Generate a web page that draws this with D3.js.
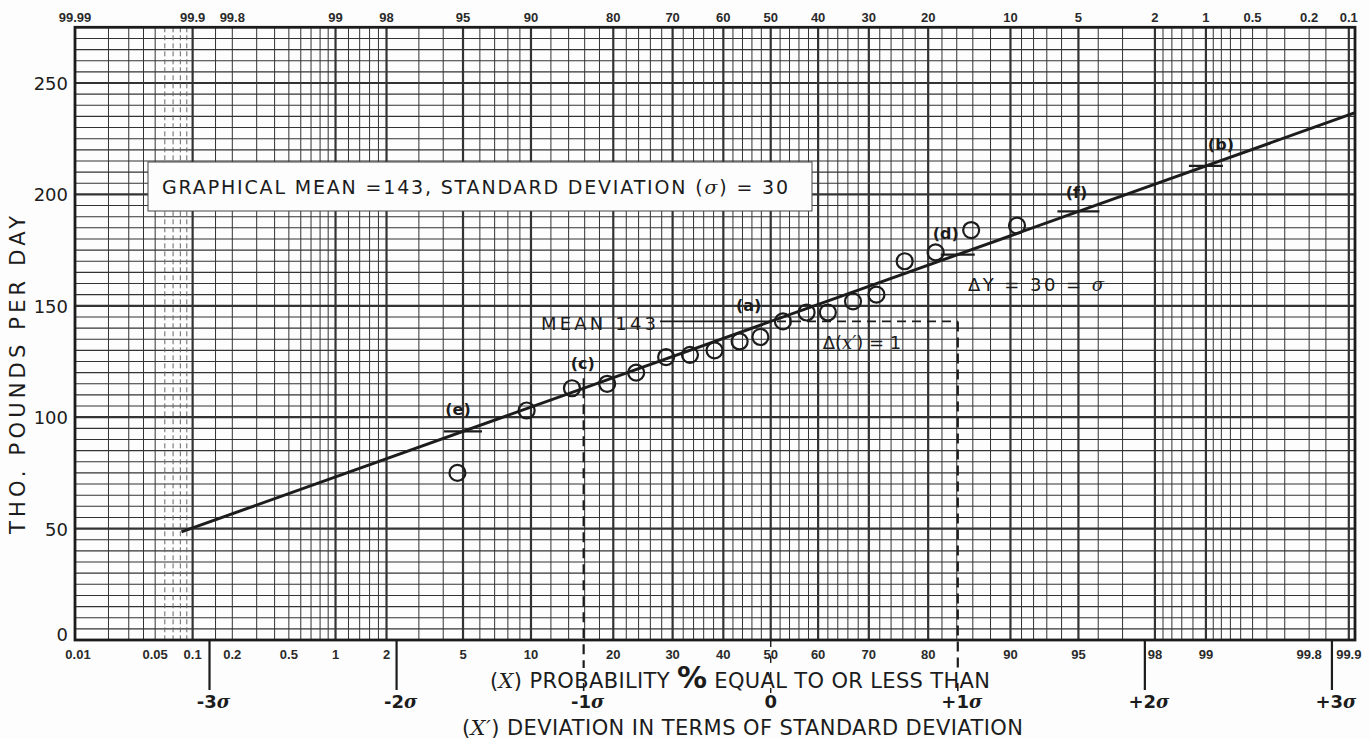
<!DOCTYPE html>
<html>
<head>
<meta charset="utf-8">
<script src="https://cdn.jsdelivr.net/npm/d3@7"></script>
<style>
  body { margin: 0; background: #fdfdfd; }
  svg { display: block; }
</style>
</head>
<body>
<svg id="chart" width="1370" height="739"></svg>
<script>
// Observed daily loads, plotted at their cumulative probability (%)
const observedPct  = [4.7, 9.6, 14.4, 19.1, 23.6, 28.8, 33.3, 38.2, 43.4, 47.8, 52.6, 57.6, 62.0, 67.0, 71.4, 76.3, 81.1, 85.8, 90.6];
const observedLoad = [75, 103, 113, 115, 120, 127, 128, 130, 134, 136, 143, 147, 147, 152, 155, 170, 174, 184, 186];

// Fitted straight line from the graphical estimates
const graphicalMean = 143;
const graphicalSigma = 30;
const fitZStart = -3.15;
const fitZEnd = 3.12;

// Tick labels
const bottomTickLabels = ["0.01", "0.05", "0.1", "0.2", "0.5", "1", "2", "5", "10", "20", "30", "40", "50", "60", "70", "80", "90", "95", "98", "99", "99.8", "99.9"];
const topTickLabels = ["99.99", "99.9", "99.8", "99", "98", "95", "90", "80", "70", "60", "50", "40", "30", "20", "10", "5", "2", "1", "0.5", "0.2", "0.1"];
const yTickValues = [0, 50, 100, 150, 200, 250];
const sigmaSteps = [-3, -2, -1, 0, 1, 2, 3];
const sigmaLabels = ["-3", "-2", "-1", "0", "+1", "+2", "+3"];

// Lettered reference points on the fitted line (probability %)
const markTags = ["(e)", "(c)", "(a)", "(d)", "(f)", "(b)"];
const markPct  = [5, 15.87, 50, 84.13, 95, 99];

// Probability-paper rulings
const heavyPct = [0.1, 1, 2, 5, 10, 20, 30, 40, 50, 60, 70, 80, 90, 95, 98, 99, 99.9];
const faintPct = [0.06, 0.07, 0.08, 0.09];
const rulingPct = [].concat(
  d3.range(0.02, 0.095, 0.01),
  [0.1, 0.15],
  d3.range(0.2, 0.95, 0.1),
  [1, 1.2, 1.4, 1.6, 1.8, 2, 3, 4],
  d3.range(5, 10, 1),
  d3.range(10, 90, 2),
  d3.range(90, 98, 1),
  [98, 98.2, 98.4, 98.6, 98.8],
  d3.range(99, 99.85, 0.1),
  [99.85, 99.9]
).map(v => +v.toFixed(2));

// Inverse standard normal CDF (Acklam's rational approximation)
function probit(p) {
  const a = [-3.969683028665376e+01, 2.209460984245205e+02, -2.759285104469687e+02, 1.383577518672690e+02, -3.066479806614716e+01, 2.506628277459239e+00];
  const b = [-5.447609879822406e+01, 1.615858368580409e+02, -1.556989798598866e+02, 6.680131188771972e+01, -1.328068155288572e+01];
  const c = [-7.784894002430293e-03, -3.223964580411365e-01, -2.400758277161838e+00, -2.549732539343734e+00, 4.374664141464968e+00, 2.938163982698783e+00];
  const d = [7.784695709041462e-03, 3.224671290700398e-01, 2.445134137142996e+00, 3.754408661907416e+00];
  const pl = 0.02425, ph = 1 - pl;
  let q, r;
  if (p < pl) {
    q = Math.sqrt(-2 * Math.log(p));
    return (((((c[0]*q + c[1])*q + c[2])*q + c[3])*q + c[4])*q + c[5]) / ((((d[0]*q + d[1])*q + d[2])*q + d[3])*q + 1);
  }
  if (p <= ph) {
    q = p - 0.5; r = q * q;
    return (((((a[0]*r + a[1])*r + a[2])*r + a[3])*r + a[4])*r + a[5])*q / (((((b[0]*r + b[1])*r + b[2])*r + b[3])*r + b[4])*r + 1);
  }
  q = Math.sqrt(-2 * Math.log(1 - p));
  return -(((((c[0]*q + c[1])*q + c[2])*q + c[3])*q + c[4])*q + c[5]) / ((((d[0]*q + d[1])*q + d[2])*q + d[3])*q + 1);
}

const plotLeft = 75, plotRight = 1355, plotTop = 27.3, plotBottom = 640;
const zScale = d3.scaleLinear().domain([probit(0.0001), 3.1233]).range([plotLeft, plotRight]);
const xPct = p => zScale(probit(p / 100));
const y = d3.scaleLinear().domain([0, 275]).range([plotBottom, plotTop]);
const fitValue = z => graphicalMean + graphicalSigma * z;

const INK = "#1c1c1c";
const GRID = "#333";
const FONT = "'DejaVu Sans', 'Liberation Sans', sans-serif";
const TICKFONT = "'Liberation Sans', 'DejaVu Sans', sans-serif";
const SERIF = "'DejaVu Serif', serif";

const svg = d3.select("#chart");
svg.append("rect").attr("width", 1370).attr("height", 739).attr("fill", "#fdfdfd");

// ---- grid ----
const grid = svg.append("g");
grid.selectAll("line.h")
  .data(d3.range(5, 275, 5))
  .join("line")
  .attr("x1", plotLeft).attr("x2", plotRight)
  .attr("y1", d => y(d)).attr("y2", d => y(d))
  .attr("stroke", GRID)
  .attr("stroke-width", d => d % 50 === 0 ? 2.2 : 1.1);

grid.selectAll("line.v")
  .data(rulingPct)
  .join("line")
  .attr("x1", d => xPct(d)).attr("x2", d => xPct(d))
  .attr("y1", plotTop).attr("y2", plotBottom)
  .attr("stroke", d => faintPct.includes(d) ? "#666" : GRID)
  .attr("stroke-dasharray", d => faintPct.includes(d) ? "5,3" : null)
  .attr("stroke-width", d => heavyPct.includes(d) ? 2.2 : 1.0);

// ---- annotation box ----
svg.append("rect")
  .attr("x", 148).attr("y", 162).attr("width", 664).attr("height", 49)
  .attr("fill", "#fdfdfd").attr("stroke", "#444").attr("stroke-width", 1);
const boxText = svg.append("text")
  .attr("x", 162).attr("y", 194)
  .attr("font-family", FONT).attr("font-size", 19).attr("fill", INK)
  .attr("textLength", 626).attr("lengthAdjust", "spacing");
boxText.append("tspan").text("GRAPHICAL MEAN =" + graphicalMean + ",  STANDARD DEVIATION (");
boxText.append("tspan").attr("font-style", "italic").attr("font-family", SERIF).text("σ");
boxText.append("tspan").text(") = " + graphicalSigma);

// ---- plot frame ----
svg.append("rect")
  .attr("x", plotLeft).attr("y", plotTop).attr("width", plotRight - plotLeft).attr("height", plotBottom - plotTop)
  .attr("fill", "none").attr("stroke", INK).attr("stroke-width", 2.8);

// ---- mean guide and sigma guides ----
const yMean = y(graphicalMean);
svg.append("line").attr("x1", 660).attr("x2", 762).attr("y1", yMean).attr("y2", yMean)
  .attr("stroke", INK).attr("stroke-width", 1.8);
svg.append("line").attr("x1", 762).attr("x2", zScale(1)).attr("y1", yMean).attr("y2", yMean)
  .attr("stroke", INK).attr("stroke-width", 1.8).attr("stroke-dasharray", "9,6");
svg.append("line").attr("x1", zScale(1)).attr("x2", zScale(1)).attr("y1", yMean).attr("y2", 668)
  .attr("stroke", INK).attr("stroke-width", 2.2).attr("stroke-dasharray", "10,6");
svg.append("line").attr("x1", zScale(-1)).attr("x2", zScale(-1)).attr("y1", y(fitValue(-1))).attr("y2", 668)
  .attr("stroke", INK).attr("stroke-width", 2.2).attr("stroke-dasharray", "10,6");
svg.append("line").attr("x1", zScale(0)).attr("x2", zScale(0)).attr("y1", plotBottom).attr("y2", 693)
  .attr("stroke", INK).attr("stroke-width", 1.4).attr("stroke-dasharray", "7,9");

// sigma tick stems below the axis
svg.selectAll("line.sig")
  .data(sigmaSteps.filter(s => Math.abs(s) >= 2))
  .join("line")
  .attr("x1", d => zScale(d)).attr("x2", d => zScale(d))
  .attr("y1", plotBottom).attr("y2", 690)
  .attr("stroke", INK).attr("stroke-width", 2.2);
svg.selectAll("line.sig1")
  .data([-1, 1])
  .join("line")
  .attr("x1", d => zScale(d)).attr("x2", d => zScale(d))
  .attr("y1", 683).attr("y2", 691)
  .attr("stroke", INK).attr("stroke-width", 1.6);

// ---- fitted line ----
const fitLine = d3.line().x(d => zScale(d)).y(d => y(fitValue(d)));
svg.append("path")
  .datum([fitZStart, fitZEnd])
  .attr("d", fitLine)
  .attr("fill", "none").attr("stroke", INK).attr("stroke-width", 3);

// ---- observations ----
svg.selectAll("circle.obs")
  .data(observedPct.map((p, i) => ({ p, v: observedLoad[i] })))
  .join("circle")
  .attr("cx", d => xPct(d.p)).attr("cy", d => y(d.v))
  .attr("r", 8)
  .attr("fill", "none").attr("stroke", INK).attr("stroke-width", 2.2);

// ---- lettered marks ----
const marks = markPct.map((p, i) => ({ tag: markTags[i], p, z: probit(p / 100) }));
const tickHalf = { "(e)": 19, "(d)": 17, "(f)": 21, "(b)": 17 };
svg.selectAll("line.mk")
  .data(marks.filter(m => tickHalf[m.tag]))
  .join("line")
  .attr("x1", d => zScale(d.z) - tickHalf[d.tag]).attr("x2", d => zScale(d.z) + tickHalf[d.tag])
  .attr("y1", d => y(fitValue(d.z))).attr("y2", d => y(fitValue(d.z)))
  .attr("stroke", INK).attr("stroke-width", 2.2);
svg.append("line")
  .attr("x1", zScale(-1)).attr("x2", zScale(-1))
  .attr("y1", y(fitValue(-1)) - 10).attr("y2", y(fitValue(-1)) + 4)
  .attr("stroke", INK).attr("stroke-width", 2);

const labelOffset = { "(e)": [-5, -16], "(c)": [-1, -19], "(a)": [-22, -10], "(d)": [-12, -16], "(f)": [-2, -13], "(b)": [15, -16] };
svg.selectAll("text.mk")
  .data(marks)
  .join("text")
  .attr("x", d => zScale(d.z) + labelOffset[d.tag][0])
  .attr("y", d => y(fitValue(d.z)) + labelOffset[d.tag][1])
  .attr("text-anchor", "middle")
  .attr("font-family", FONT).attr("font-size", 16).attr("font-weight", "bold").attr("fill", INK)
  .text(d => d.tag);

// ---- in-plot notes ----
svg.append("text").attr("x", 656).attr("y", 330).attr("text-anchor", "end")
  .attr("font-family", FONT).attr("font-size", 18).attr("fill", INK)
  .attr("textLength", 115).attr("lengthAdjust", "spacing")
  .text("MEAN " + graphicalMean);

const dx = svg.append("text").attr("x", 862).attr("y", 349).attr("text-anchor", "middle")
  .attr("font-family", FONT).attr("font-size", 18).attr("fill", INK);
dx.append("tspan").text("Δ(");
dx.append("tspan").attr("font-style", "italic").attr("font-family", SERIF).text("x′");
dx.append("tspan").text(") = 1");

const dy = svg.append("text").attr("x", 968).attr("y", 291)
  .attr("font-family", FONT).attr("font-size", 18).attr("fill", INK)
  .attr("textLength", 136).attr("lengthAdjust", "spacing");
dy.append("tspan").text("ΔY  =  " + graphicalSigma + " = ");
dy.append("tspan").attr("font-style", "italic").attr("font-family", SERIF).text("σ");

// ---- axes labels ----
svg.selectAll("text.ytick")
  .data(yTickValues)
  .join("text")
  .attr("x", 68).attr("y", d => d === 0 ? y(d) + 1 : y(d) + 7)
  .attr("text-anchor", "end")
  .attr("font-family", FONT).attr("font-size", 18).attr("fill", INK)
  .text(d => d);

svg.selectAll("text.btick")
  .data(bottomTickLabels)
  .join("text")
  .attr("x", d => xPct(+d) + (d === "0.01" ? 3 : 0)).attr("y", 659)
  .attr("text-anchor", "middle")
  .attr("font-family", TICKFONT).attr("font-size", 13).attr("font-weight", "bold").attr("fill", "#2a2a2a")
  .text(d => d);

svg.selectAll("text.ttick")
  .data(topTickLabels)
  .join("text")
  .attr("x", d => xPct(100 - (+d))).attr("y", 22)
  .attr("text-anchor", "middle")
  .attr("font-family", TICKFONT).attr("font-size", 13).attr("font-weight", "bold").attr("fill", "#2a2a2a")
  .text(d => d);

svg.append("text")
  .attr("transform", "translate(25,375) rotate(-90)")
  .attr("text-anchor", "middle")
  .attr("font-family", FONT).attr("font-size", 21).attr("fill", INK)
  .attr("textLength", 318).attr("lengthAdjust", "spacing")
  .text("THO. POUNDS PER DAY");

// sigma labels
const sigText = svg.selectAll("text.sig")
  .data(sigmaSteps.map((s, i) => ({ s, label: sigmaLabels[i] })))
  .join("text")
  .attr("x", d => zScale(d.s) + (d.s === 0 ? 0 : 4)).attr("y", 708)
  .attr("text-anchor", "middle")
  .attr("font-family", FONT).attr("font-size", 18).attr("font-weight", "bold").attr("fill", INK);
sigText.append("tspan").text(d => d.label);
sigText.filter(d => d.s !== 0).append("tspan")
  .attr("font-style", "italic").attr("font-family", SERIF).attr("font-weight", "bold")
  .text("σ");

// x-axis titles
const t1 = svg.append("text").attr("x", 490).attr("y", 688)
  .attr("font-family", FONT).attr("font-size", 21).attr("fill", INK)
  .attr("textLength", 500).attr("lengthAdjust", "spacing");
t1.append("tspan").text("(");
t1.append("tspan").attr("font-style", "italic").attr("font-family", SERIF).text("X");
t1.append("tspan").text(") PROBABILITY ");
t1.append("tspan").attr("font-size", 30).attr("font-weight", "bold").text("%");
t1.append("tspan").text(" EQUAL TO OR LESS THAN");

const t2 = svg.append("text").attr("x", 462).attr("y", 735)
  .attr("font-family", FONT).attr("font-size", 21).attr("fill", INK)
  .attr("textLength", 561).attr("lengthAdjust", "spacing");
t2.append("tspan").text("(");
t2.append("tspan").attr("font-style", "italic").attr("font-family", SERIF).text("X′");
t2.append("tspan").text(") DEVIATION IN TERMS OF STANDARD DEVIATION");
</script>
</body>
</html>
